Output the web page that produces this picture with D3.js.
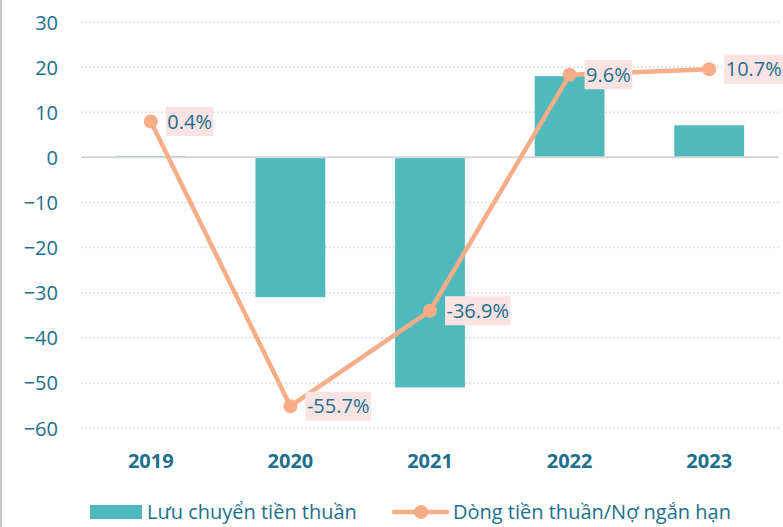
<!DOCTYPE html>
<html><head><meta charset="utf-8">
<script src="https://cdn.jsdelivr.net/npm/d3@7"></script>
<style>
html,body{margin:0;padding:0;background:#fff;}
svg text{font-family:"Open Sans","Noto Sans",sans-serif;}
</style></head>
<body>
<svg id="c" width="783" height="527"></svg>
<script>
const years = ["2019","2020","2021","2022","2023"];
const cashFlow = [0.3, -31.0, -51.0, 18.0, 7.1];
const ratio = [0.4, -55.7, -36.9, 9.6, 10.7];
const ratioLabels = ["0.4%","-55.7%","-36.9%","9.6%","10.7%"];
const leftTicks = [30,20,10,0,-10,-20,-30,-40,-50,-60];
const legendNames = ["Lưu chuyển tiền thuần","Dòng tiền thuần/Nợ ngắn hạn"];

const textColor = "#1d6f8c", barColor = "#4fb9be", lineColor = "#f7ad87", labelBg = "#fbe3e3";
const svg = d3.select("#c");

// left border
svg.append("rect").attr("x",0).attr("y",0).attr("width",2).attr("height",527).attr("fill","#c8c8c8");

const x = d3.scaleBand().domain(years).range([81,779]).paddingInner(0.5).paddingOuter(0.25);
const y = d3.scaleLinear().domain([-60,30]).range([428,22]);
const y2 = d3.scaleLinear().domain([-60,20]).range([428,22]);

// grid
svg.append("g").selectAll("line").data(leftTicks.filter(d=>d!==0)).join("line")
  .attr("x1",81).attr("x2",779).attr("y1",d=>y(d)).attr("y2",d=>y(d))
  .attr("stroke","#d3d3d3").attr("stroke-width",1.5).attr("stroke-dasharray","1.5,2.5");

// y axis labels
const yAxis = d3.axisLeft(y).tickValues(leftTicks).tickSize(0).tickPadding(0).tickFormat(d3.format("d"));
const ga = svg.append("g").attr("transform","translate(58,0)").call(yAxis);
ga.select(".domain").remove();
ga.selectAll("text").attr("fill",textColor).attr("font-size",20).attr("dy","0.35em");

// bars
svg.append("g").selectAll("rect").data(years).join("rect")
  .attr("x",d=>x(d)).attr("width",x.bandwidth())
  .attr("y",(d,i)=>Math.min(y(cashFlow[i]),y(0)))
  .attr("height",(d,i)=>Math.abs(y(cashFlow[i])-y(0)))
  .attr("fill",barColor);

// zero line
svg.append("line").attr("x1",81).attr("x2",779).attr("y1",y(0)).attr("y2",y(0))
  .attr("stroke","#d6d6d6").attr("stroke-width",2);

// x axis labels
const xAxis = d3.axisBottom(x).tickSize(0).tickPadding(0);
const gx = svg.append("g").attr("transform","translate(0,461)").call(xAxis);
gx.select(".domain").remove();
gx.selectAll("text").attr("fill",textColor).attr("font-size",20).attr("font-weight","bold").attr("dy","0.35em");

// line
const cx = d => x(d)+x.bandwidth()/2;
svg.append("path").datum(years)
  .attr("d",d3.line().x(d=>cx(d)).y((d,i)=>y2(ratio[i])))
  .attr("fill","none").attr("stroke",lineColor).attr("stroke-width",4.5).attr("stroke-linejoin","round");
svg.append("g").selectAll("circle").data(years).join("circle")
  .attr("cx",d=>cx(d)).attr("cy",(d,i)=>y2(ratio[i])).attr("r",7).attr("fill",lineColor);

// data labels
const lg = svg.append("g").selectAll("g").data(years).join("g")
  .attr("transform",(d,i)=>`translate(${cx(d)+15},${y2(ratio[i])})`);
lg.each(function(d,i){
  const g = d3.select(this);
  const r = g.append("rect").attr("fill",labelBg);
  const t = g.append("text").text(ratioLabels[i]).attr("x",1.5).attr("dy","0.36em")
    .attr("fill",textColor).attr("font-size",20);
  const w = t.node().getComputedTextLength();
  r.attr("x",0).attr("y",-14.5).attr("width",w+3).attr("height",29);
});

// legend
const leg = svg.append("g");
leg.append("rect").attr("x",90).attr("y",505).attr("width",52).attr("height",14).attr("fill",barColor);
leg.append("text").text(legendNames[0]).attr("x",147).attr("y",512).attr("dy","0.35em")
  .attr("fill",textColor).attr("font-size",20);
leg.append("line").attr("x1",394).attr("x2",447).attr("y1",512).attr("y2",512)
  .attr("stroke",lineColor).attr("stroke-width",4.5).attr("stroke-linecap","round");
leg.append("circle").attr("cx",421).attr("cy",512).attr("r",7).attr("fill",lineColor);
leg.append("text").text(legendNames[1]).attr("x",453).attr("y",512).attr("dy","0.35em")
  .attr("fill",textColor).attr("font-size",20);
</script>
</body></html>
